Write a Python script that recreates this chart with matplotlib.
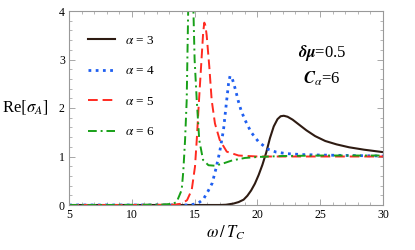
import matplotlib
matplotlib.use("Agg")
import matplotlib.pyplot as plt
from matplotlib.ticker import MultipleLocator

plt.rcParams['font.family'] = ['Liberation Serif', 'DejaVu Serif']
plt.rcParams['mathtext.fontset'] = 'stix'

# alpha = 3 (black solid)
w3 = [5, 10, 15, 17, 17.5, 18.1, 18.5, 18.9, 19.2, 19.5, 19.8, 20.1, 20.4, 20.7, 21.0, 21.3, 21.6, 21.85,
      22.1, 22.4, 22.8, 23.3, 23.9, 24.6, 25.4, 26.3, 27.3, 28.5, 30]
s3 = [0, 0, 0, 0.0, 0.005, 0.03, 0.06, 0.11, 0.19, 0.3, 0.44, 0.62, 0.83, 1.08, 1.38, 1.62, 1.77, 1.83,
      1.84, 1.82, 1.76, 1.66, 1.54, 1.42, 1.32, 1.25, 1.19, 1.14, 1.09]

# alpha = 4 (blue dotted)
w4 = [5, 10, 14.6, 15.0, 15.4, 15.7, 16.1, 16.4, 16.7, 17.0, 17.3, 17.55, 17.7, 17.82, 17.95, 18.1, 18.3,
      18.46, 18.7, 19.0, 19.5, 20.1, 20.85, 21.5, 22.3, 23.5, 25, 30]
s4 = [0, 0, 0.0, 0.02, 0.06, 0.12, 0.3, 0.45, 0.75, 1.1, 1.55, 2.15, 2.5, 2.66, 2.64, 2.52, 2.33,
      2.16, 1.95, 1.76, 1.5, 1.3, 1.15, 1.09, 1.06, 1.04, 1.03, 1.01]

# alpha = 5 (red dashed)
w5 = [5, 10, 13.0, 13.5, 14.0, 14.4, 14.77, 15.03, 15.17, 15.35, 15.55, 15.68, 15.77, 15.86, 15.96, 16.17,
      16.36, 16.62, 17.0, 17.56, 18.5, 20, 25, 30]
s5 = [0, 0, 0.005, 0.01, 0.03, 0.1, 0.31, 0.79, 1.34, 2.16, 3.0, 3.55, 3.76, 3.7, 3.5, 2.85,
      2.16, 1.68, 1.34, 1.1, 1.02, 1.0, 1.0, 1.0]

# alpha = 6 (green dash-dot)
w6 = [5, 8, 11, 12.5, 13.0, 13.3, 13.57, 13.97, 14.1, 14.24, 14.37, 14.5, 14.67, 14.85, 15.0, 15.17,
      15.37, 15.67, 16.1, 16.6, 17.2, 18.0, 19.0, 20.0, 22, 25, 30]
s6 = [0, 0, 0.005, 0.01, 0.02, 0.03, 0.06, 0.31, 0.7, 1.34, 2.16, 4.2, 6.0, 4.6, 3.0, 2.16,
      1.34, 0.93, 0.82, 0.81, 0.85, 0.92, 0.97, 0.99, 1.01, 1.02, 1.02]

labels = [r'$\alpha$ = 3', r'$\alpha$ = 4', r'$\alpha$ = 5', r'$\alpha$ = 6']
xticks = [5, 10, 15, 20, 25, 30]
yticks = [0, 1, 2, 3, 4]

fig = plt.figure(figsize=(4.15, 2.5), dpi=100)
ax = fig.add_axes([0.1663, 0.18, 0.7566, 0.776])

ax.plot(w3, s3, color='#2e1b12', lw=1.5, ls='-', label=labels[0])
ax.plot(w4, s4, color='#1f5ff0', lw=2.0, ls=(0, (1, 1.6)), label=labels[1])
ax.plot(w5, s5, color='#ff2a20', lw=1.4, ls=(0, (5, 2.5)), label=labels[2])
ax.plot(w6, s6, color='#18a018', lw=1.4, ls=(0, (4.5, 2, 1, 2)), label=labels[3])

ax.set_xlim(5, 30)
ax.set_ylim(0, 4)
ax.set_xticks(xticks)
ax.set_yticks(yticks)
ax.xaxis.set_minor_locator(MultipleLocator(1))
ax.yaxis.set_minor_locator(MultipleLocator(0.2))
ax.tick_params(which='both', direction='in', top=True, right=True, color='#999999', labelsize=8.5, pad=3)
ax.tick_params(which='major', length=4, width=0.6)
ax.tick_params(which='minor', length=2, width=0.5)
for sp in ax.spines.values():
    sp.set_color('#999999')
    sp.set_linewidth(0.8)

ax.set_xlabel(r'$\omega\,/\,T_C$', fontsize=12, labelpad=2)
ax.set_ylabel(r'Re$[\sigma_A]$', fontsize=12, rotation=0, labelpad=24, va='center')

ax.legend(loc='upper left', bbox_to_anchor=(0.045, 0.905), frameon=False, fontsize=9.5,
          handlelength=2.0, handletextpad=0.75, labelspacing=1.38, borderaxespad=0)

ax.text(0.805, 0.785, r'$\boldsymbol{\delta\mu}$=0.5', transform=ax.transAxes, fontsize=12,
        ha='center', va='center')
ax.text(0.805, 0.65, r'$\boldsymbol{C}_{\alpha}$=6', transform=ax.transAxes, fontsize=12,
        ha='center', va='center')

fig.savefig('out.png', dpi=100)
